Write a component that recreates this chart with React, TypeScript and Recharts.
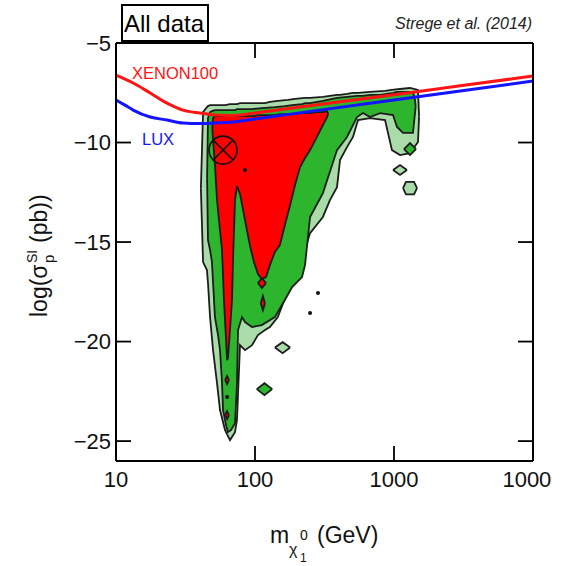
import React from "react";
import { ComposedChart, Area, Line, Scatter, XAxis, YAxis } from "recharts";

// mass of the lightest neutralino (GeV) against log10 of sigma_SI (pb)
// contour bands are [mass, lower edge, upper edge]
type Band = [number, number, number][];

const xTicks = [10, 100, 1000, 10000];
const yTicks = [-25, -20, -15, -10, -5];
const xInnerTicks = [100, 1000];
const yInnerTicks = [-25, -20, -15, -10];

const outer3s: Band = [
  [40.8, -12.3, -12.3],
  [42.3, -16.01, -8.47], [45.1, -16.41, -8.22], [45.9, -17.06, -8.17],
  [47.5, -18.77, -8.12], [49.9, -20.43, -8.12], [53.3, -22.09, -8.12],
  [56.0, -23.44, -8.12], [60.9, -24.45, -8.12], [66.1, -24.95, -8.07],
  [71.8, -24.55, -8.07], [74.2, -23.94, -8.07], [78.0, -20.18, -8.02],
  [84.7, -20.43, -8.02], [95.2, -20.18, -8.02], [105, -19.67, -8.02],
  [118, -19.42, -8.02], [128, -19.27, -7.96], [146, -18.77, -7.91],
  [173, -17.41, -7.86], [194, -16.41, -7.81], [229, -15.4, -7.76],
  [249, -14.55, -7.76], [308, -13.74, -7.71], [346, -12.89, -7.66],
  [389, -12.24, -7.61], [409, -10.88, -7.61], [459, -10.23, -7.56],
  [507, -9.72, -7.51], [551, -8.87, -7.51], [672, -8.77, -7.46],
  [862, -8.87, -7.41], [967, -10.38, -7.36], [1105, -10.63, -7.31],
  [1304, -10.53, -7.26], [1488, -9.97, -7.36], [1515, -8.7, -8.7],
];

const mid2s: Band = [
  [45.2, -11.8, -11.8],
  [45.9, -14.9, -8.77], [47.5, -15.4, -8.47], [49.0, -16.01, -8.42],
  [51.5, -18.77, -8.37], [54.2, -19.67, -8.37], [56.0, -20.43, -8.37],
  [57.9, -22.09, -8.37], [58.9, -23.44, -8.37], [61.9, -24.2, -8.37],
  [63.9, -24.55, -8.37], [67.2, -24.45, -8.37], [71.8, -24.1, -8.37],
  [74.2, -22.09, -8.32], [75.5, -19.42, -8.32], [80.6, -18.77, -8.32],
  [84.7, -19.02, -8.32], [95.2, -19.27, -8.32], [112, -19.17, -8.27],
  [139, -18.77, -8.22], [164, -17.91, -8.17], [185, -17.26, -8.12],
  [218, -16.76, -8.07], [229, -16.16, -8.02], [249, -13.74, -8.02],
  [308, -12.54, -7.91], [389, -10.38, -7.76], [459, -9.72, -7.71],
  [542, -8.72, -7.66], [598, -8.52, -7.66], [672, -8.72, -7.61],
  [793, -8.52, -7.61], [984, -8.62, -7.51], [1051, -9.22, -7.46],
  [1161, -9.52, -7.46], [1370, -9.52, -7.46], [1416, -8.52, -7.86],
  [1432, -8.2, -8.2],
];

const inner1s: Band = [
  [49.3, -9.3, -9.3],
  [49.9, -9.87, -8.77], [51.5, -11.13, -8.67], [53.3, -12.89, -8.67],
  [56.0, -14.4, -8.67], [57.9, -15.4, -8.67], [59.8, -17.91, -8.67],
  [61.9, -19.92, -8.67], [63.0, -20.93, -8.67], [63.9, -20.83, -8.67],
  [66.1, -19.42, -8.67], [68.3, -17.91, -8.67], [69.5, -15.9, -8.67],
  [70.6, -14.4, -8.67], [71.8, -12.89, -8.67], [74.2, -12.19, -8.67],
  [78.0, -12.59, -8.67], [84.7, -13.89, -8.67], [92.1, -15.2, -8.67],
  [98.3, -16.01, -8.67], [105, -16.61, -8.62], [112, -16.86, -8.62],
  [120, -16.76, -8.62], [128, -16.16, -8.62], [139, -15.5, -8.62],
  [151, -15.15, -8.57], [164, -14.15, -8.57], [179, -13.14, -8.57],
  [194, -12.14, -8.57], [211, -11.23, -8.52], [229, -10.78, -8.52],
  [249, -10.38, -8.52], [279, -9.72, -8.47], [308, -9.12, -8.47],
  [330, -8.72, -8.42], [336, -8.57, -8.57],
];

// small islands
const redIslandA: Band = [[105, -17.06, -17.06], [112, -17.31, -16.81], [120, -17.06, -17.06]];
const redIslandB: Band = [[110, -18.07, -18.07], [114, -18.42, -17.71], [118, -18.07, -18.07]];
const redIslandC: Band = [[61.0, -21.93, -21.93], [63.0, -22.14, -21.73], [65.0, -21.93, -21.93]];
const redIslandD: Band = [[61.0, -23.69, -23.69], [63.0, -23.89, -23.49], [65.0, -23.69, -23.69]];
const greenIslandA: Band = [[103, -22.39, -22.39], [117, -22.69, -22.09], [133, -22.39, -22.39]];
const greenIslandB: Band = [[1180, -10.33, -10.33], [1304, -10.63, -10.03], [1440, -10.33, -10.33]];
const paleIslandA: Band = [[139, -20.3, -20.3], [158, -20.58, -20.03], [179, -20.3, -20.3]];
const paleIslandB: Band = [[984, -11.38, -11.38], [1105, -11.63, -11.13], [1240, -11.38, -11.38]];
const paleIslandC: Band = [[1161, -12.29, -12.29], [1220, -12.6, -11.98], [1393, -12.6, -11.98], [1464, -12.29, -12.29]];

const xenon100: [number, number][] = [
  [10, -6.61], [13.3, -7.01], [17.6, -7.51], [23.3, -8.02], [30.3, -8.37],
  [40.2, -8.52], [51.5, -8.62], [66.1, -8.64], [84.7, -8.59], [100, -8.52],
  [300, -8.08], [1000, -7.6], [3000, -7.15], [10000, -6.66],
];
const lux: [number, number][] = [
  [10, -7.86], [11.6, -8.12], [13.3, -8.37], [17.6, -8.72], [23.3, -8.87],
  [30.3, -9.02], [40.2, -9.05], [51.5, -9.02], [69.5, -8.97], [100, -8.82],
  [300, -8.36], [1000, -7.86], [3000, -7.41], [10000, -6.91],
];

const bestFit: [number, number][] = [[58.9, -10.38]];
const specks: [number, number][] = [[84.7, -11.38], [284, -17.56], [249, -18.57], [63.0, -22.78]];

const PALE = "#a9dca9";
const GREEN = "#2db52d";
const RED = "#ff0000";
const EDGE = "#1c1c1c";
const FONT = "'Liberation Sans', Arial, sans-serif";
const TICK_LEN = 15;

const toRows = (b: Band) => b.map(([m, lo, hi]) => ({ m, r: [lo, hi] }));
const toPts = (p: [number, number][]) => p.map(([m, v]) => ({ m, v }));

const band = (key: string, b: Band, fill: string) => (
  <Area
    key={key}
    data={toRows(b)}
    dataKey="r"
    type="linear"
    fill={fill}
    fillOpacity={1}
    stroke={EDGE}
    strokeWidth={1.8}
    dot={false}
    activeDot={false}
    isAnimationActive={false}
  />
);

const BestFitMark = (p: any) => {
  const { cx, cy } = p;
  const r = 14;
  const d = r * 0.707;
  return (
    <g stroke="#111" strokeWidth={1.6} fill="none">
      <circle cx={cx} cy={cy} r={r} />
      <line x1={cx - d} y1={cy - d} x2={cx + d} y2={cy + d} />
      <line x1={cx - d} y1={cy + d} x2={cx + d} y2={cy - d} />
    </g>
  );
};

const Speck = (p: any) => <circle cx={p.cx} cy={p.cy} r={2} fill="#111" />;

// inward tick marks anchored on the frame
const tickMark = (dx: number, dy: number) => (p: any) => (
  <line x1={p.cx} y1={p.cy} x2={p.cx + dx * TICK_LEN} y2={p.cy + dy * TICK_LEN} stroke="#000" strokeWidth={1.8} />
);

const fmtY = (v: number) => (v < 0 ? `\u2212${-v}` : `${v}`);

export default function App() {
  const axisLine = { stroke: "#000", strokeWidth: 2 };
  const tickFont = { fontSize: 22, fill: "#111", fontFamily: FONT };
  return (
    <div style={{ position: "absolute", left: 0, top: 0, width: 552, height: 566, overflow: "hidden", background: "#fff" }}>
      <ComposedChart width={552} height={566} margin={{ top: 42, right: 18, bottom: 0, left: 0 }}>
        <XAxis
          dataKey="m"
          type="number"
          scale="log"
          domain={[10, 10000]}
          ticks={xTicks}
          allowDataOverflow
          height={105}
          axisLine={axisLine}
          tickLine={false}
          tickSize={-8}
          tickMargin={18}
          tick={tickFont}
          interval={0}
        />
        <XAxis
          xAxisId="top"
          orientation="top"
          dataKey="m"
          type="number"
          scale="log"
          domain={[10, 10000]}
          ticks={xTicks}
          allowDataOverflow
          height={1}
          axisLine={axisLine}
          tickLine={false}
          tick={false}
        />
        <YAxis
          dataKey="v"
          type="number"
          domain={[-26, -5]}
          ticks={yTicks}
          allowDataOverflow
          width={116}
          axisLine={axisLine}
          tickLine={false}
          tickSize={-8}
          tickMargin={13}
          tick={tickFont}
          tickFormatter={fmtY}
          interval={0}
        />
        <YAxis
          yAxisId="right"
          orientation="right"
          type="number"
          domain={[-26, -5]}
          ticks={yTicks}
          allowDataOverflow
          width={1}
          axisLine={axisLine}
          tickLine={false}
          tick={false}
        />
        {band("o3", outer3s, PALE)}
        {band("pa", paleIslandA, PALE)}
        {band("pb", paleIslandB, PALE)}
        {band("pc", paleIslandC, PALE)}
        {band("m2", mid2s, GREEN)}
        {band("ga", greenIslandA, GREEN)}
        {band("gb", greenIslandB, GREEN)}
        {band("i1", inner1s, RED)}
        {band("ra", redIslandA, RED)}
        {band("rb", redIslandB, RED)}
        {band("rc", redIslandC, RED)}
        {band("rd", redIslandD, RED)}
        <Line data={toPts(xenon100)} dataKey="v" type="monotone" stroke="#ff1414" strokeWidth={3} dot={false} activeDot={false} isAnimationActive={false} />
        <Line data={toPts(lux)} dataKey="v" type="monotone" stroke="#1414ff" strokeWidth={3} dot={false} activeDot={false} isAnimationActive={false} />
        <Scatter data={toPts(specks)} dataKey="v" shape={Speck} isAnimationActive={false} />
        <Scatter data={toPts(bestFit)} dataKey="v" shape={BestFitMark} isAnimationActive={false} />
        <Scatter data={xInnerTicks.map((m) => ({ m, v: -26 }))} dataKey="v" shape={tickMark(0, -1)} isAnimationActive={false} />
        <Scatter data={xInnerTicks.map((m) => ({ m, v: -5 }))} dataKey="v" shape={tickMark(0, 1)} isAnimationActive={false} />
        <Scatter data={yInnerTicks.map((v) => ({ m: 10, v }))} dataKey="v" shape={tickMark(1, 0)} isAnimationActive={false} />
        <Scatter data={yInnerTicks.map((v) => ({ m: 10000, v }))} dataKey="v" shape={tickMark(-1, 0)} isAnimationActive={false} />
      </ComposedChart>
      <svg width={552} height={566} style={{ position: "absolute", left: 0, top: 0, pointerEvents: "none" }} fontFamily={FONT}>
        <rect x={122} y={5} width={86} height={36} fill="#fff" stroke="#000" strokeWidth={2} />
        <text x={124} y={32} fontSize={24} fill="#000">All data</text>
        <text x={532} y={29} fontSize={16} fontStyle="italic" textAnchor="end" fill="#222">Strege et al. (2014)</text>
        <text x={132} y={79} fontSize={16.5} fill="#ff1414">XENON100</text>
        <text x={142} y={145} fontSize={16.5} fill="#1414ff">LUX</text>
        <g fill="#111">
          <text x={270} y={543} fontSize={23}>m</text>
          <text x={289} y={555} fontSize={16}>χ</text>
          <text x={300} y={562} fontSize={12}>1</text>
          <text x={300} y={540} fontSize={14}>0</text>
          <text x={317} y={543} fontSize={23}>(GeV)</text>
        </g>
        <g fill="#111" transform="translate(47,252) rotate(-90)">
          <text x={-65} y={0} fontSize={23}>log(σ</text>
          <text x={-11} y={7} fontSize={15}>p</text>
          <text x={-11} y={-10} fontSize={14}>SI</text>
          <text x={9} y={0} fontSize={23}>(pb))</text>
        </g>
      </svg>
    </div>
  );
}
